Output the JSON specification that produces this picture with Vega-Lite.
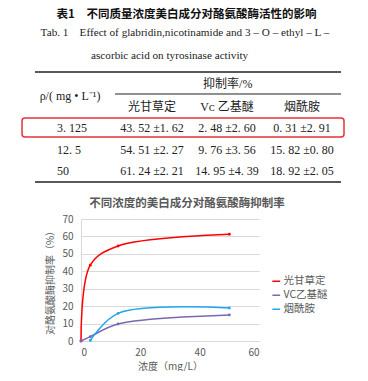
{
  "$schema": "https://vega.github.io/schema/vega-lite/v6.json",
  "padding": 0,
  "spacing": 29,
  "center": true,
  "bounds": "flush",
  "background": "white",
  "config": {"view": {"stroke": null}},
  "resolve": {"legend": {"color": "independent"}, "scale": {"color": "independent"}},
  "datasets": {
    "cells": [
      {"r": 0, "c": 1, "text": "光甘草定"},
      {"r": 0, "c": 2, "text": "Vᴄ 乙基醚"},
      {"r": 0, "c": 3, "text": "烟酰胺"},
      {"r": 1, "c": 0, "text": "3. 125"},
      {"r": 1, "c": 1, "text": "43. 52 ±1. 62"},
      {"r": 1, "c": 2, "text": "2. 48 ±2. 60"},
      {"r": 1, "c": 3, "text": "0. 31 ±2. 91"},
      {"r": 2, "c": 0, "text": "12. 5"},
      {"r": 2, "c": 1, "text": "54. 51 ±2. 27"},
      {"r": 2, "c": 2, "text": "9. 76 ±3. 56"},
      {"r": 2, "c": 3, "text": "15. 82 ±0. 80"},
      {"r": 3, "c": 0, "text": "50"},
      {"r": 3, "c": 1, "text": "61. 24 ±2. 21"},
      {"r": 3, "c": 2, "text": "14. 95 ±4. 39"},
      {"r": 3, "c": 3, "text": "18. 92 ±2. 05"}
    ],
    "curve": [
      {"浓度": 0, "成分": "光甘草定", "抑制率": 0},
      {"浓度": 3.125, "成分": "光甘草定", "抑制率": 43.52},
      {"浓度": 12.5, "成分": "光甘草定", "抑制率": 54.51},
      {"浓度": 50, "成分": "光甘草定", "抑制率": 61.24},
      {"浓度": 0, "成分": "VC乙基醚", "抑制率": 0},
      {"浓度": 3.125, "成分": "VC乙基醚", "抑制率": 2.48},
      {"浓度": 12.5, "成分": "VC乙基醚", "抑制率": 9.76},
      {"浓度": 50, "成分": "VC乙基醚", "抑制率": 14.95},
      {"浓度": 3.125, "成分": "烟酰胺", "抑制率": 0.31},
      {"浓度": 12.5, "成分": "烟酰胺", "抑制率": 15.82},
      {"浓度": 50, "成分": "烟酰胺", "抑制率": 18.92}
    ]
  },
  "vconcat": [
    {
      "width": 340,
      "height": 190,
      "encoding": {
        "x": {"type": "quantitative", "scale": {"domain": [0, 3], "range": [77, 302], "nice": false, "zero": false}, "axis": null},
        "y": {"type": "quantitative", "scale": {"domain": [0, 3], "range": [107, 171], "nice": false, "zero": false}, "axis": null}
      },
      "layer": [
        {
          "data": {"values": [{}]},
          "mark": {"type": "rect", "filled": false, "stroke": "#E8303A", "strokeWidth": 1.5, "cornerRadius": 3},
          "encoding": {"x": {"datum": -0.733}, "x2": {"datum": 3.56}, "y": {"datum": 0.516}, "y2": {"datum": 1.406}}
        },
        {
          "data": {"values": [{}]},
          "mark": {"type": "rule", "stroke": "#222222", "strokeWidth": 1.5},
          "encoding": {"x": {"datum": -0.56}, "x2": {"datum": 3.52}, "y": {"datum": -1.64}}
        },
        {
          "data": {"values": [{}]},
          "mark": {"type": "rule", "stroke": "#222222", "strokeWidth": 1},
          "encoding": {"x": {"datum": 0.507}, "x2": {"datum": 3.52}, "y": {"datum": -0.61}}
        },
        {
          "data": {"values": [{}]},
          "mark": {"type": "rule", "stroke": "#222222", "strokeWidth": 1.5},
          "encoding": {"x": {"datum": -0.56}, "x2": {"datum": 3.52}, "y": {"datum": 3.52}}
        },
        {
          "data": {"values": [{}]},
          "mark": {"type": "text", "text": "表1　不同质量浓度美白成分对酪氨酸酶活性的影响", "font": "Noto Sans CJK SC", "fontWeight": "bold", "fontSize": 11.5, "align": "center", "baseline": "middle", "color": "#111111"},
          "encoding": {"x": {"datum": 1.46}, "y": {"datum": -4.31}}
        },
        {
          "data": {"values": [{}]},
          "mark": {"type": "text", "text": "Tab. 1\u00a0\u00a0\u00a0\u00a0Effect of glabridin,nicotinamide and 3 – O – ethyl – L –", "font": "Liberation Serif", "fontSize": 11.2, "align": "center", "baseline": "middle", "color": "#222222"},
          "encoding": {"x": {"datum": 1.44}, "y": {"datum": -3.47}}
        },
        {
          "data": {"values": [{}]},
          "mark": {"type": "text", "text": "ascorbic acid on tyrosinase activity", "font": "Liberation Serif", "fontSize": 11.2, "align": "left", "baseline": "middle", "color": "#222222"},
          "encoding": {"x": {"datum": 0.187}, "y": {"datum": -2.41}}
        },
        {
          "data": {"values": [{}]},
          "mark": {"type": "text", "text": "抑制率/%", "font": "Liberation Serif, Noto Sans CJK SC", "fontSize": 12, "align": "center", "baseline": "middle", "color": "#222222"},
          "encoding": {"x": {"datum": 2.01}, "y": {"datum": -1.1}}
        },
        {
          "data": {"values": [{}]},
          "mark": {"type": "text", "text": "ρ/( mg • L⁻¹)", "font": "Liberation Serif", "fontSize": 12, "align": "center", "baseline": "middle", "color": "#222222"},
          "encoding": {"x": {"datum": -0.093}, "y": {"datum": -0.52}}
        },
        {
          "data": {"name": "cells"},
          "transform": [{"filter": "datum.c > 0"}],
          "mark": {"type": "text", "font": "Liberation Serif, Noto Sans CJK SC", "fontSize": 12, "align": "center", "baseline": "middle", "color": "#222222"},
          "encoding": {"x": {"field": "c"}, "y": {"field": "r"}, "text": {"field": "text"}}
        },
        {
          "data": {"name": "cells"},
          "transform": [{"filter": "datum.c == 0"}],
          "mark": {"type": "text", "font": "Liberation Serif", "fontSize": 12, "align": "left", "baseline": "middle", "dx": -20, "color": "#222222"},
          "encoding": {"x": {"field": "c"}, "y": {"field": "r"}, "text": {"field": "text"}}
        }
      ]
    },
    {
      "width": 178,
      "height": 122,
      "title": {"text": "不同浓度的美白成分对酪氨酸酶抑制率", "frame": "bounds", "anchor": "middle", "fontSize": 11.5, "fontWeight": "bold", "color": "#595959", "font": "Noto Sans CJK SC", "offset": 5},
      "data": {"name": "curve"},
      "mark": {"type": "line", "interpolate": "catmull-rom", "strokeWidth": 1.5, "point": {"filled": true, "size": 8}},
      "encoding": {
        "x": {
          "field": "浓度", "type": "quantitative",
          "scale": {"domain": [0, 60], "nice": false},
          "axis": {"values": [0, 20, 40, 60], "title": "浓度（mg/L）", "grid": false, "ticks": false, "domainColor": "#d9d9d9", "labelPadding": 6, "labelFontSize": 10, "labelColor": "#595959", "labelFont": "Noto Sans CJK SC", "titleFont": "Noto Sans CJK SC", "titleFontSize": 10, "titleFontWeight": "normal", "titleColor": "#595959", "titlePadding": 4}
        },
        "y": {
          "field": "抑制率", "type": "quantitative",
          "scale": {"domain": [0, 70], "nice": false},
          "axis": {"values": [0, 10, 20, 30, 40, 50, 60, 70], "title": "对酪氨酸酶抑制率（%）", "grid": true, "gridColor": "#d9d9d9", "ticks": false, "domainColor": "#d9d9d9", "labelPadding": 8, "labelFontSize": 10, "labelColor": "#595959", "labelFont": "Noto Sans CJK SC", "titleFont": "Noto Sans CJK SC", "titleFontSize": 10, "titleFontWeight": "normal", "titleColor": "#595959", "titlePadding": 6}
        },
        "color": {
          "field": "成分", "type": "nominal",
          "scale": {"domain": ["光甘草定", "VC乙基醚", "烟酰胺"], "range": ["#FF0000", "#7B68B3", "#21A6F0"]},
          "legend": {"title": null, "orient": "none", "legendX": 190, "legendY": 57, "symbolType": "stroke", "symbolSize": 60, "symbolStrokeWidth": 1.5, "labelFontSize": 10.5, "labelColor": "#595959", "labelFont": "Noto Sans CJK SC", "rowPadding": 3, "labelOffset": 2}
        }
      }
    }
  ]
}
